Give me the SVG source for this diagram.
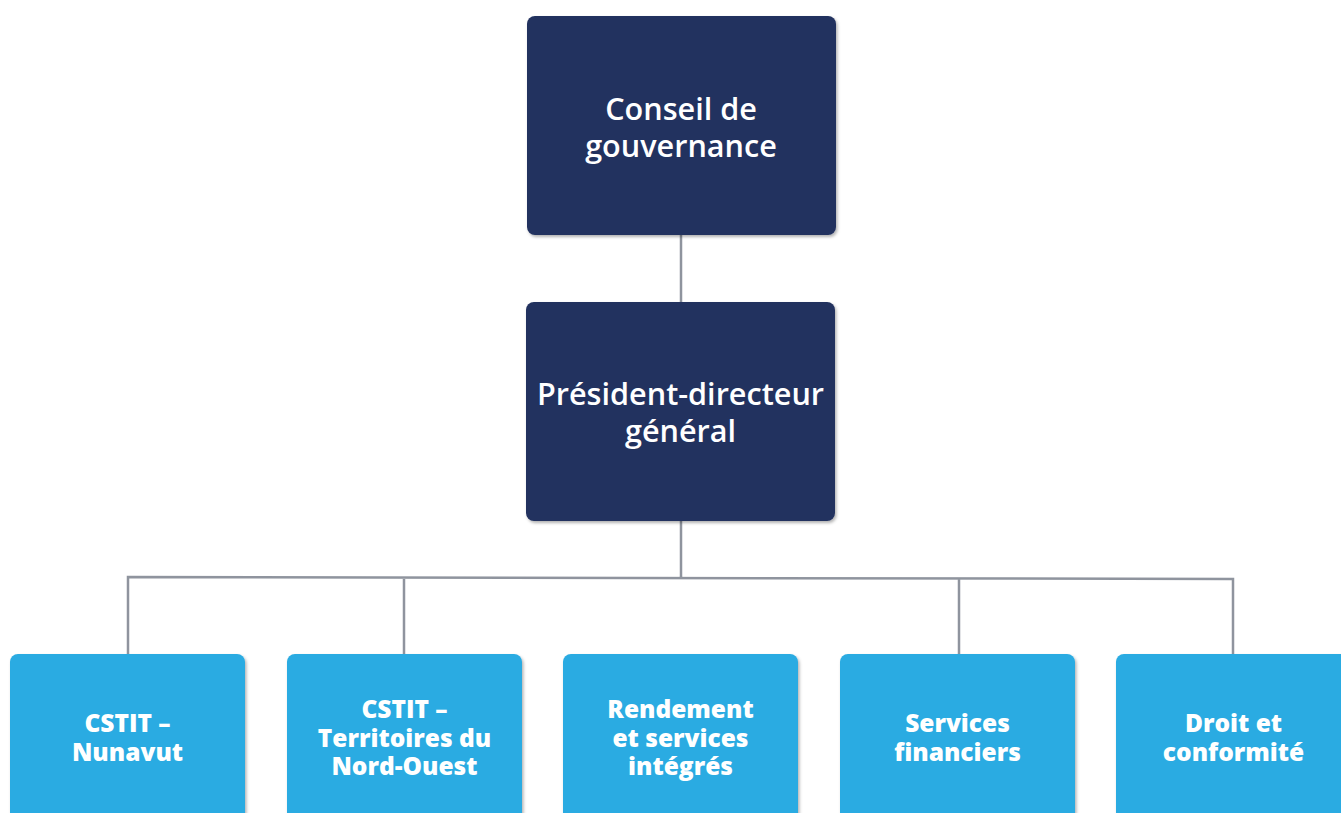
<svg xmlns="http://www.w3.org/2000/svg" width="1341" height="813" viewBox="0 0 1341 813">
<defs>
<filter id="sh" x="-10%" y="-10%" width="120%" height="120%">
<feDropShadow dx="1.5" dy="2" stdDeviation="1.5" flood-color="#000" flood-opacity="0.3"/>
</filter>
<style>
.dark{fill:#21315f;filter:url(#sh)}
.light{fill:#2aabe2;filter:url(#sh)}
.t1{font-family:"Open Sans","Noto Sans",sans-serif;font-size:30.6px;font-weight:600;fill:#fff;text-anchor:middle}
.t2{font-family:"Open Sans","Noto Sans",sans-serif;font-size:24.5px;font-weight:800;fill:#fff;text-anchor:middle}
.ln{fill:none;stroke:#8f949e;stroke-width:2.5}
</style>
</defs>
<rect width="1341" height="813" fill="#fff"/>
<g id="connectors">
<path class="ln" d="M681 235V302M681 521V577.5M128 654V577L1233 579V654M404 654V577.3M959 654V578.5"/>
</g>
<g id="conseil">
<rect class="dark" x="527" y="16" width="309" height="219" rx="8"/>
<text class="t1" x="681" y="120">Conseil de</text>
<text class="t1" x="681" y="157">gouvernance</text>
</g>
<g id="pdg">
<rect class="dark" x="526" y="302" width="309" height="219" rx="8"/>
<text class="t1" x="680.5" y="405">Président-directeur</text>
<text class="t1" x="680.5" y="442">général</text>
</g>
<g id="nunavut">
<rect class="light" x="10" y="654" width="235" height="180" rx="8"/>
<text class="t2" x="127.5" y="732">CSTIT –</text>
<text class="t2" x="127.5" y="761">Nunavut</text>
</g>
<g id="tno">
<rect class="light" x="287" y="654" width="235" height="180" rx="8"/>
<text class="t2" x="404.5" y="718">CSTIT –</text>
<text class="t2" x="404.5" y="747">Territoires du</text>
<text class="t2" x="404.5" y="775">Nord-Ouest</text>
</g>
<g id="rendement">
<rect class="light" x="563" y="654" width="235" height="180" rx="8"/>
<text class="t2" x="680.5" y="718">Rendement</text>
<text class="t2" x="680.5" y="747">et services</text>
<text class="t2" x="680.5" y="775">intégrés</text>
</g>
<g id="finances">
<rect class="light" x="840" y="654" width="235" height="180" rx="8"/>
<text class="t2" x="957.5" y="732">Services</text>
<text class="t2" x="957.5" y="761">financiers</text>
</g>
<g id="droit">
<rect class="light" x="1116" y="654" width="235" height="180" rx="8"/>
<text class="t2" x="1233.5" y="732">Droit et</text>
<text class="t2" x="1233.5" y="761">conformité</text>
</g>
</svg>
